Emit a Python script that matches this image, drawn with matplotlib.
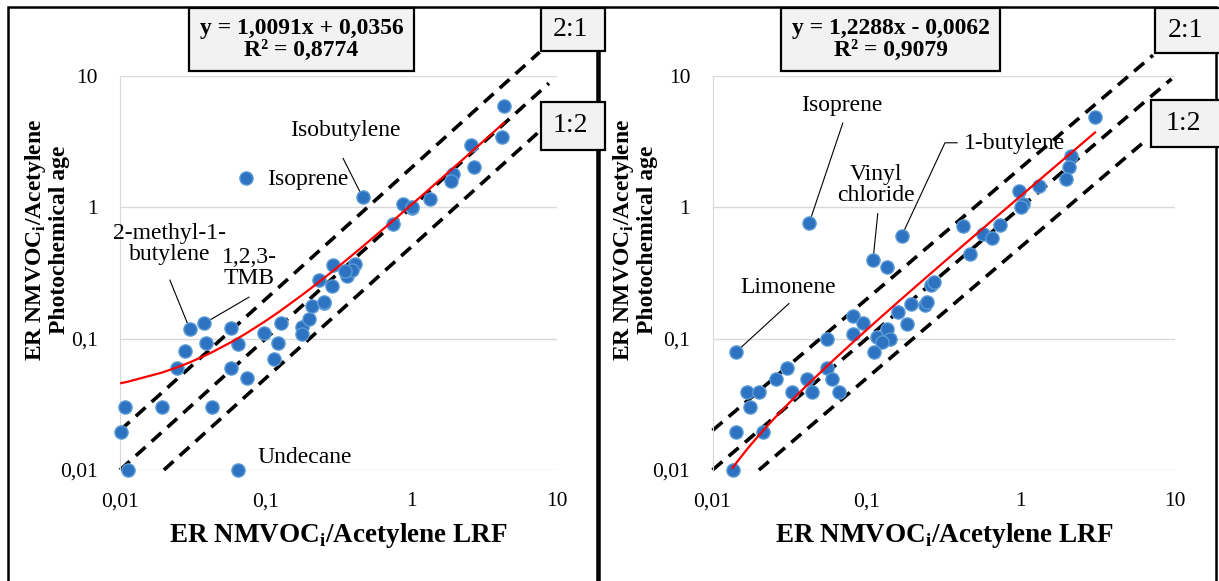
import matplotlib
matplotlib.use("Agg")  # headless backend

import numpy as np
import matplotlib.pyplot as plt
from matplotlib.patches import Rectangle

plt.rcParams["font.family"] = ["Liberation Serif", "DejaVu Serif"]
plt.rcParams["mathtext.fontset"] = "custom"
plt.rcParams["mathtext.rm"] = "Liberation Serif"
plt.rcParams["mathtext.bf"] = "Liberation Serif:bold"

W, H = 1219, 581

# ---- data ----
left_x = [0.0302, 0.0377, 0.0578, 0.0978, 0.1267, 0.1766, 0.1766, 0.198, 0.209, 0.251,
          0.0279, 0.0387, 0.0649, 0.121, 0.0245, 0.0578, 0.114, 0.0741, 0.0108, 0.0193,
          0.0426, 0.0102, 0.0113, 0.0642, 0.0733, 0.463, 0.88, 1.005, 1.342, 0.744,
          0.291, 0.36, 0.41, 0.389, 0.35, 0.233, 0.284, 0.252, 4.32, 4.17,
          2.55, 2.69, 1.92, 1.87, 1.01]
left_y = [0.1175, 0.1305, 0.1196, 0.1095, 0.132, 0.123, 0.109, 0.14, 0.178, 0.188,
          0.0804, 0.0919, 0.0908, 0.0919, 0.0593, 0.0593, 0.0695, 0.0498, 0.0303, 0.0303,
          0.0303, 0.0196, 0.01, 0.01, 1.68, 1.197, 1.067, 0.995, 1.165, 0.742,
          0.362, 0.299, 0.373, 0.332, 0.33, 0.279, 0.251, 0.19, 5.86, 3.43,
          2.96, 2.03, 1.80, 1.60, 1.0]

right_x = [0.0142, 0.0135, 0.0142, 0.0213, 0.0175, 0.0167, 0.0201, 0.0258, 0.0306, 0.0326,
           0.0408, 0.044, 0.055, 0.0593, 0.0664, 0.055, 0.0811, 0.095, 0.0819, 0.116,
           0.135, 0.1416, 0.125, 0.1115, 0.160, 0.183, 0.193, 0.239, 0.247, 0.262,
           0.275, 0.110, 0.135, 0.169, 0.0423, 0.424, 0.468, 0.570, 0.647, 0.732,
           0.977, 1.04, 1.0, 3.03, 2.13, 2.06, 1.96, 1.32]
right_y = [0.0791, 0.01, 0.0195, 0.0195, 0.0303, 0.0393, 0.0393, 0.0497, 0.0602, 0.0393,
           0.0497, 0.0393, 0.0602, 0.0497, 0.0393, 0.1, 0.150, 0.1314, 0.109, 0.1028,
           0.119, 0.1, 0.0943, 0.079, 0.159, 0.130, 0.184, 0.179, 0.19, 0.255,
           0.272, 0.398, 0.354, 0.609, 0.755, 0.725, 0.442, 0.627, 0.585, 0.738,
           1.32, 1.06, 1.0, 4.87, 2.46, 2.03, 1.64, 1.46]

left_fit = (1.0091, 0.0356)
right_fit = (1.2288, -0.0062)
left_eq = "y = 1,0091x + 0,0356\nR² = 0,8774"
right_eq = "y = 1,2288x - 0,0062\nR² = 0,9079"

ticks = [0.01, 0.1, 1, 10]
tick_labels = ["0,01", "0,1", "1", "10"]

ratios = [2, 1, 0.5]
left_ratio_end = [7.6, 8.8, 7.6]
right_ratio_end = [7.2, 9.5, 6.6]

# (text, text position, leader path, index of labelled point)
left_labels = [
    ("Isobutylene", (0.35, 3.85), [(0.34, 2.36)], 25),
    ("Isoprene", (0.195, 1.63), None, 24),
    ("2-methyl-1-\nbutylene", (0.022, 0.53), [(0.022, 0.279)], 0),
    ("1,2,3-\nTMB", (0.0768, 0.344), [(0.0768, 0.207)], 1),
    ("Undecane", (0.186, 0.0125), None, 23),
]
right_labels = [
    ("Isoprene", (0.0691, 6.0), [(0.07, 4.38)], 34),
    ("Vinyl\nchloride", (0.115, 1.49), [(0.118, 0.894)], 31),
    ("1-butylene", (0.916, 3.04), [(0.386, 3.1), (0.322, 3.1)], 33),
    ("Limonene", (0.0309, 0.245), [(0.0313, 0.185)], 0),
]

BLUE = "#2E72C2"
EDGE = "#5B9BD5"
GRID = "#d9d9d9"


def px_box(fig, x0, y0, x1, y1, text, size, weight="normal", dx=0):
    fig.add_artist(Rectangle((x0 / W, 1 - y1 / H), (x1 - x0) / W, (y1 - y0) / H,
                             transform=fig.transFigure, facecolor="#f2f2f2",
                             edgecolor="black", lw=1.6, zorder=5))
    fig.text((x0 + x1) / 2 / W + dx / W, 1 - (y0 + y1) / 2 / H, text, ha="center",
             va="center", fontsize=size, fontweight=weight, zorder=6,
             linespacing=1.1)


def draw_panel(ax, xs, ys, fit, ratio_end, labels, ylab_dx):
    ax.set_xscale("log")
    ax.set_yscale("log")
    ax.set_xlim(0.01, 10)
    ax.set_ylim(0.01, 10)
    ax.set_xticks(ticks)
    ax.set_xticklabels(tick_labels)
    ax.set_yticks(ticks)
    ax.set_yticklabels(tick_labels)
    ax.minorticks_off()
    ax.tick_params(length=0, labelsize=15.5, pad=16)
    for s in ["top", "right", "bottom"]:
        ax.spines[s].set_visible(False)
    ax.spines["left"].set_color(GRID)
    ax.yaxis.grid(True, color=GRID, lw=1)
    ax.set_axisbelow(True)

    # ratio lines 2:1, 1:1, 1:2
    for r, xe in zip(ratios, ratio_end):
        xs_line = np.array([max(0.01, 0.01 / r), xe])
        ax.plot(xs_line, r * xs_line, color="black", lw=2.6, dashes=(3.6, 2.3),
                dash_capstyle="butt", clip_on=False, zorder=2)

    # linear trendline drawn through the sorted x values
    xf = np.sort(np.array(xs))
    ax.plot(xf, fit[0] * xf + fit[1], color="red", lw=1.6, zorder=4)

    ax.plot(xs, ys, "o", ms=9.5, mfc=BLUE, mec=EDGE, mew=1.0, zorder=3,
            clip_on=False)

    for text, pos, path, idx in labels:
        ax.text(pos[0], pos[1], text, ha="center", va="center", fontsize=17,
                linespacing=1.0, zorder=6)
        if path:
            px = [p[0] for p in path] + [xs[idx]]
            py = [p[1] for p in path] + [ys[idx]]
            ax.plot(px, py, color="black", lw=0.8, zorder=2.5)

    ax.text(0.5, -0.165, r"ER NMVOC$_\mathbf{i}$/Acetylene LRF",
            transform=ax.transAxes, ha="center", va="center", fontsize=19.5,
            fontweight="bold")
    ax.text(ylab_dx, 0.585, "ER NMVOC$_\\mathbf{i}$/Acetylene\nPhotochemical age",
            transform=ax.transAxes, ha="center", va="center", rotation=90,
            fontsize=17, fontweight="bold", linespacing=1.05)


fig = plt.figure(figsize=(W / 100, H / 100), dpi=100)

# panel frames
fig.add_artist(Rectangle((8 / W, -0.1), 589 / W, 1.1 - 7 / H, transform=fig.transFigure,
                         fill=False, edgecolor="black", lw=1.8))
fig.add_artist(Rectangle((599 / W, -0.1), 617 / W, 1.1 - 7 / H, transform=fig.transFigure,
                         fill=False, edgecolor="black", lw=1.8))

ax1 = fig.add_axes([120 / W, 1 - 470 / H, 437 / W, 394 / H])
ax2 = fig.add_axes([712.5 / W, 1 - 470 / H, 462.5 / W, 394 / H])

draw_panel(ax1, left_x, left_y, left_fit, left_ratio_end, left_labels, -0.168)
draw_panel(ax2, right_x, right_y, right_fit, right_ratio_end, right_labels, -0.168)

px_box(fig, 189, 8, 414, 71, left_eq, 17, "bold")
px_box(fig, 781, 8, 1000, 71, right_eq, 17, "bold")
px_box(fig, 541, 8, 605, 51, "2:1", 20, dx=-3)
px_box(fig, 541, 102, 605, 150, "1:2", 20, dx=-3)
px_box(fig, 1155, 8, 1222, 53, "2:1", 20, dx=-3)
px_box(fig, 1151, 100, 1222, 147, "1:2", 20, dx=-3)

fig.savefig("out.png", dpi=100)
